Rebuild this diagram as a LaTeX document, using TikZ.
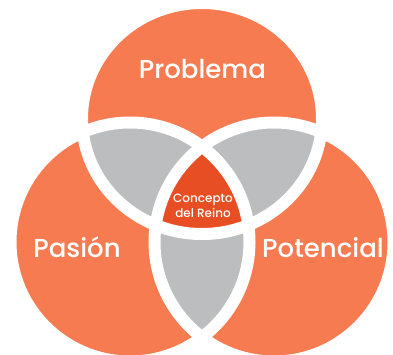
\documentclass[tikz,border=0pt]{standalone}
\usepackage{fontspec}
\setmainfont{Poppins}[UprightFont=* Medium]
\definecolor{naranja}{HTML}{F77B50}
\definecolor{rojizo}{HTML}{E84E23}
\definecolor{gris}{HTML}{BCBDBF}
\newcommand{\circProblema}{(202,118.5) ellipse [x radius=120, y radius=115.5]}
\newcommand{\circPasion}{(130,242) circle (119.5)}
\newcommand{\circPotencial}{(274,242) circle (119.5)}
\tikzset{
  anillo/.style={draw=white, line width=12pt},
  etiqueta/.style={text=white, font=\fontsize{26}{30}\selectfont, anchor=base}
}
\begin{document}
\begin{tikzpicture}[x=1pt, y=-1pt]
    \useasboundingbox (0,0) rectangle (393,354);

    % Circulos
    \fill[naranja] \circProblema;
    \fill[naranja] \circPasion;
    \fill[naranja] \circPotencial;

    % Intersecciones de dos
    \begin{scope}
        \clip \circProblema;
        \fill[gris] \circPasion;
        \fill[gris] \circPotencial;
    \end{scope}
    \begin{scope}
        \clip \circPasion;
        \fill[gris] \circPotencial;
    \end{scope}

    % Centro
    \begin{scope}
        \clip \circProblema;
        \clip \circPasion;
        \fill[rojizo] \circPotencial;
    \end{scope}

    % Bordes blancos
    \draw[anillo] \circProblema;
    \draw[anillo] \circPasion;
    \draw[anillo] \circPotencial;

    % Textos
    \node[etiqueta] (problema) at (202.5,78) {Problema};
    \node[etiqueta] (pasion) at (77,257) {Pasión};
    \node[etiqueta] (potencial) at (323,257) {Potencial};
    \node[text=white, font=\fontsize{12}{15}\selectfont, align=center]
        (concepto) at (203,206) {Concepto\\del Reino};
\end{tikzpicture}
\end{document}
